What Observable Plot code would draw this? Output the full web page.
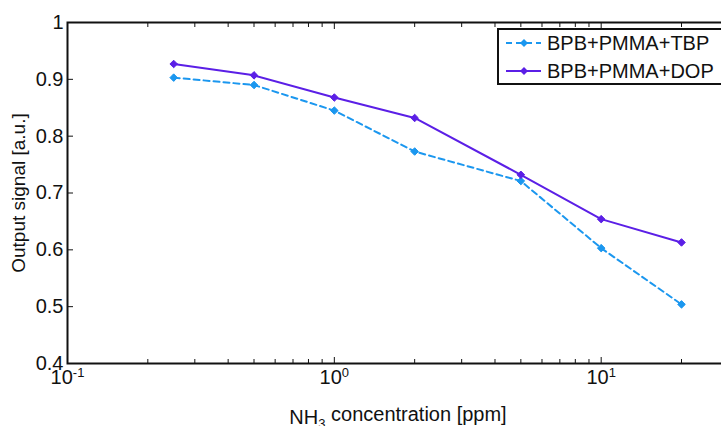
<!DOCTYPE html>
<html><head><meta charset="utf-8">
<script src="https://cdn.jsdelivr.net/npm/d3@7"></script>
<script src="https://cdn.jsdelivr.net/npm/@observablehq/plot@0.6"></script>
<style>
html,body{margin:0;padding:0;background:#fff;overflow:hidden;width:721px;height:426px}
#wrap{position:relative;width:721px;height:426px;overflow:hidden}
#legend{position:absolute;left:497px;top:28px}
</style>
</head><body><div id="wrap"></div>
<script>
const concentrations = [0.25, 0.5, 1, 2, 5, 10, 20];
const tbpValues = [0.903, 0.890, 0.845, 0.773, 0.721, 0.603, 0.504];
const dopValues = [0.927, 0.907, 0.868, 0.832, 0.732, 0.654, 0.613];
const seriesNames = ["BPB+PMMA+TBP", "BPB+PMMA+DOP"];
const seriesColors = ["#1b97ef", "#5b1fe6"];
const yTicks = [0.4, 0.5, 0.6, 0.7, 0.8, 0.9, 1];
const xMajorTicks = [0.1, 1, 10];
const xMajorLabels = ["10^-1", "10^0", "10^1"];
const xMinorTicks = [0.2,0.3,0.4,0.5,0.6,0.7,0.8,0.9,2,3,4,5,6,7,8,9,20,30];
const xLabel = "NH3 concentration [ppm]";
const yLabel = "Output signal [a.u.]";

const data = [];
concentrations.forEach((c, i) => {
  data.push({x: c, y: tbpValues[i], s: seriesNames[0]});
});
concentrations.forEach((c, i) => {
  data.push({x: c, y: dopValues[i], s: seriesNames[1]});
});
const tbp = data.filter(d => d.s === seriesNames[0]);
const dop = data.filter(d => d.s === seriesNames[1]);
const ink = "#111";

const chart = Plot.plot({
  width: 721, height: 426,
  marginLeft: 67, marginTop: 22, marginBottom: 63, marginRight: -7,
  style: {fontFamily: "'Liberation Sans', Arial, sans-serif", fontSize: "20px", color: ink, background: "#fff"},
  x: {type: "log", domain: [0.1, 30]},
  y: {domain: [0.4, 1]},
  marks: [
    Plot.axisY({ticks: yTicks, tickSize: -6, tickPadding: 10, tickFormat: d => d === 1 ? "1" : d.toFixed(1),
      label: yLabel, labelAnchor: "center", labelArrow: "none", labelOffset: 56}),
    Plot.axisX({ticks: xMajorTicks, tickSize: -6, tickPadding: 12, tickFormat: d => xMajorLabels[xMajorTicks.indexOf(d)],
      label: xLabel, labelAnchor: "center", labelArrow: "none", labelOffset: 60}),
    Plot.axisX({ticks: xMinorTicks, tickSize: -4, tickFormat: () => "", label: null}),
    Plot.axisX({anchor: "top", ticks: xMajorTicks, tickSize: -6, tickFormat: () => "", label: null}),
    Plot.axisX({anchor: "top", ticks: xMinorTicks, tickSize: -4, tickFormat: () => "", label: null}),
    Plot.frame({stroke: ink, strokeWidth: 2}),
    Plot.line(tbp, {x: "x", y: "y", stroke: seriesColors[0], strokeWidth: 2, strokeDasharray: "6,4"}),
    Plot.dot(tbp, {x: "x", y: "y", symbol: "diamond2", r: 3.4, fill: seriesColors[0], stroke: seriesColors[0], strokeWidth: 1}),
    Plot.line(dop, {x: "x", y: "y", stroke: seriesColors[1], strokeWidth: 2}),
    Plot.dot(dop, {x: "x", y: "y", symbol: "diamond2", r: 3.4, fill: seriesColors[1], stroke: seriesColors[1], strokeWidth: 1})
  ]
});
document.getElementById("wrap").appendChild(chart);

const svg = d3.select(chart);
svg.selectAll('g[aria-label="y-axis tick label"], g[aria-label="x-axis tick label"]').attr("font-size", 20)
  .selectAll("text").attr("font-size", 20);
// superscript tick labels
svg.selectAll('g[aria-label="x-axis tick label"] text').each(function() {
  const t = this.textContent;
  if (!t.includes("^")) return;
  const [base, exp] = t.split("^");
  const sel = d3.select(this);
  sel.text(base);
  sel.append("tspan").attr("dy", "-0.55em").attr("font-size", "13px").text(exp);
});
// subscript in x label
svg.selectAll('g[aria-label="x-axis label"]').attr("font-size", 20);
svg.selectAll('g[aria-label="x-axis label"] text').each(function() {
  const sel = d3.select(this);
  sel.text("NH").attr("font-size", 20);
  sel.append("tspan").attr("dy", "0.35em").attr("font-size", "13px").text("3");
  sel.append("tspan").attr("dy", "-0.35em").text(" concentration [ppm]");
});
svg.selectAll('g[aria-label="y-axis label"]').attr("font-size", 19);
svg.selectAll('g[aria-label="y-axis label"] text').attr("font-size", 19);

// legend
const leg = d3.select("#wrap").append("svg").attr("id", "legend").attr("width", 240).attr("height", 60);
leg.append("rect").attr("x", 1).attr("y", 1).attr("width", 260).attr("height", 55)
  .attr("fill", "#fff").attr("stroke", ink).attr("stroke-width", 2);
seriesNames.forEach((name, i) => {
  const cy = 15 + i * 28;
  leg.append("line").attr("x1", 9).attr("x2", 44).attr("y1", cy).attr("y2", cy)
    .attr("stroke", seriesColors[i]).attr("stroke-width", 2).attr("stroke-dasharray", i === 0 ? "6,4" : null);
  leg.append("path").attr("d", d3.symbol(d3.symbolDiamond2, 40)()).attr("transform", `translate(27,${cy})`)
    .attr("fill", seriesColors[i]);
  leg.append("text").attr("x", 50).attr("y", cy).attr("dy", "0.36em")
    .attr("font-family", "'Liberation Sans', Arial, sans-serif").attr("font-size", 20).attr("fill", ink).text(name);
});
</script>
</body></html>
